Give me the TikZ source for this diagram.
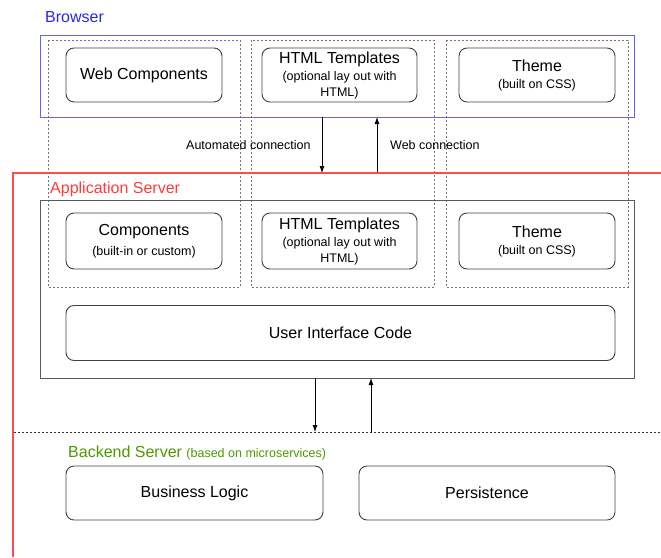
\documentclass[tikz,border=0pt]{standalone}
\usepackage{fontspec}
\setmainfont{Liberation Sans}
\usetikzlibrary{positioning,arrows.meta}

\definecolor{browserblue}{RGB}{40,40,230}
\definecolor{browserframe}{RGB}{100,100,240}
\definecolor{appred}{RGB}{255,60,60}
\definecolor{backgreen}{RGB}{77,153,0}

\newcommand{\bigtxt}{\fontsize{16}{19}\selectfont}
\newcommand{\smalltxt}{\fontsize{12.5}{14.5}\selectfont}

\tikzset{
  part/.style={draw=black!75, line width=0.9pt, rounded corners=8pt, align=center, font=\bigtxt, inner sep=0pt},
  column/.style={draw=black!55, line width=0.8pt, dash pattern=on 2pt off 2pt},
  conn/.style={-{Latex[length=7pt,width=5pt]}, line width=0.8pt},
  title/.style={anchor=base west, font=\bigtxt, inner sep=0pt},
  connlabel/.style={anchor=base west, font=\smalltxt, inner sep=0pt},
}

\begin{document}
\begin{tikzpicture}[x=1pt, y=-1pt]
    \useasboundingbox (0,0) rectangle (661,557);

    % Columns
    \draw [column] (48,40) rectangle (240,287);
    \draw [column] (251,40) rectangle (434,287);
    \draw [column] (446,40) rectangle (628,287);

    % Browser
    \node [title, text=browserblue] (browsertitle) at (45,22) {Browser};
    \draw [draw=browserframe, line width=0.9pt] (40,35) rectangle (634,117);
    \node [part, minimum width=156pt, minimum height=54pt] (webcomp) at (144,75) {Web Components};
    \node [part, minimum width=155pt, minimum height=54pt] (browserhtml) at (339.5,75)
        {HTML Templates\\[-2pt]{\smalltxt (optional lay out with}\\[-3pt]{\smalltxt HTML)}};
    \node [part, minimum width=156pt, minimum height=54pt] (browsertheme) at (537,75)
        {Theme\\[-2pt]{\smalltxt (built on CSS)}};

    % Connections
    \coordinate (autotop) at (322,117);
    \coordinate (autobot) at (322,173);
    \coordinate (webtop) at (377,117);
    \coordinate (webbot) at (377,173);
    \draw [conn] (autotop) -- (autobot);
    \draw [conn] (webbot) -- (webtop);
    \node [connlabel] (autolabel) at (186,149) {Automated connection};
    \node [connlabel] (weblabel) at (390,149) {Web connection};

    % Application server
    \draw [color=red!70!white, line width=1.3pt] (661,173) -- (13,173) -- (13,557);
    \node [title, text=appred] (apptitle) at (50,193) {Application Server};
    \draw [draw=black!65, line width=0.9pt] (40,200) rectangle (634,378);
    \node [part, minimum width=156pt, minimum height=56pt] (components) at (144,241)
        {Components\\[1pt]{\smalltxt (built-in or custom)}};
    \node [part, minimum width=155pt, minimum height=56pt] (apphtml) at (339.5,241)
        {HTML Templates\\[-2pt]{\smalltxt (optional lay out with}\\[-3pt]{\smalltxt HTML)}};
    \node [part, minimum width=156pt, minimum height=56pt] (apptheme) at (537,241)
        {Theme\\[-2pt]{\smalltxt (built on CSS)}};
    \node [part, minimum width=549pt, minimum height=55pt] (uicode) at (340.5,333) {User Interface Code};

    % Backend connections
    \coordinate (downtop) at (315,378);
    \coordinate (downbot) at (315,432);
    \coordinate (uptop) at (371,378);
    \coordinate (upbot) at (371,432);
    \draw [conn] (downtop) -- (downbot);
    \draw [conn] (upbot) -- (uptop);

    % Backend server
    \draw [column, draw=black!80] (14,432) -- (661,432);
    \node [title, text=backgreen] (backtitle) at (68,457) {Backend Server {\smalltxt (based on microservices)}};
    \node [part, minimum width=257pt, minimum height=54pt] (logic) at (194.5,493) {Business Logic};
    \node [part, minimum width=256pt, minimum height=54pt] (persist) at (487,493) {Persistence};
\end{tikzpicture}
\end{document}
